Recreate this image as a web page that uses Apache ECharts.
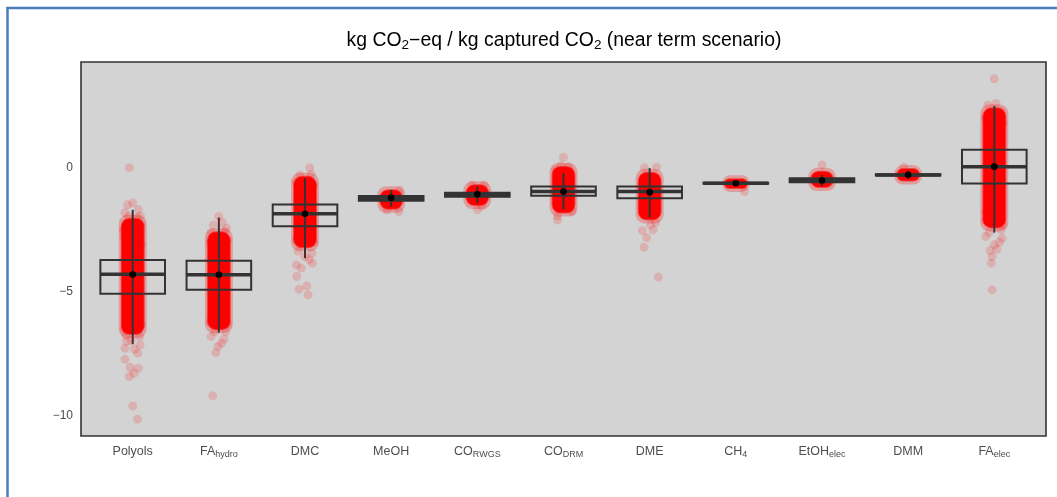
<!DOCTYPE html>
<html>
<head>
<meta charset="utf-8">
<script src="https://cdn.jsdelivr.net/npm/echarts@6/dist/echarts.min.js"></script>
<style>
  html, body { margin: 0; padding: 0; background: #ffffff; }
  #chart { width: 1057px; height: 497px; }
</style>
</head>
<body>
<div id="chart"></div>
<script>
// Product pathways, with the subscript part of each label kept separately
const categoryNames = ['Polyols', 'FA', 'DMC', 'MeOH', 'CO', 'CO', 'DME', 'CH', 'EtOH', 'DMM', 'FA'];
const categorySubs  = ['', 'hydro', '', '', 'RWGS', 'DRM', '', '4', 'elec', '', 'elec'];

// Box-plot statistics (kg CO2-eq / kg captured CO2)
const whiskerLow  = [-7.11, -6.64, -3.64, -1.56, -1.42, -1.67, -2.00, -0.69, -0.73, -0.44, -2.61];
const q1          = [-5.07, -4.91, -2.35, -1.32, -1.16, -1.12, -1.22, -0.64, -0.58, -0.31, -0.63];
const medians     = [-4.29, -4.31, -1.85, -1.22, -1.08, -0.955, -0.955, -0.62, -0.50, -0.285, 0.05];
const q3          = [-3.71, -3.74, -1.48, -1.13, -1.00, -0.75, -0.75, -0.60, -0.42, -0.26, 0.73];
const whiskerHigh = [-1.69, -2.00, -0.42, -0.89, -0.75, -0.21, -0.01, -0.55, -0.28, -0.11, 2.50];
const means       = [-4.30, -4.31, -1.85, -1.20, -1.06, -0.955, -0.98, -0.62, -0.51, -0.28, 0.05];

// Range where the Monte Carlo samples overlap into a solid cloud
const cloudHigh = [-2.15, -2.70, -0.46, -1.00, -0.80, -0.06, -0.30, -0.56, -0.26, -0.15, 2.30];
const cloudLow  = [-6.60, -6.40, -3.10, -1.55, -1.40, -1.70, -1.98, -0.71, -0.67, -0.41, -2.30];

// Individual samples outside the dense cloud: [category, jitter, value]
const samplePoints = [
  [0, -0.04, 0.01], [0, 0, -1.42], [0, -0.06, -1.49], [0, 0.065, -1.68], [0, -0.09, -1.81],
  [0, -0.05, -1.95], [0, 0.05, -2.0], [0, 0.09, -1.95], [0, -0.07, -2.23], [0, 0.1, -2.3],
  [0, -0.11, -2.5], [0, 0.08, -6.8], [0, -0.08, -6.75], [0, -0.07, -7.0], [0, 0.085, -7.14],
  [0, -0.09, -7.27], [0, 0.02, -7.3], [0, 0.06, -7.47], [0, -0.09, -7.72], [0, -0.03, -8.04],
  [0, 0.065, -8.08], [0, 0.015, -8.28], [0, -0.04, -8.41], [0, 0, -9.6], [0, 0.055, -10.13],
  [0, -0.1, -6.5], [0, 0.1, -6.3], [0, -0.1, -2.8], [0, 0.1, -3.1], [0, -0.02, -6.95],
  [1, 0, -1.96], [1, 0.04, -2.2], [1, -0.065, -2.3], [1, 0.09, -2.43], [1, 0.07, -2.55],
  [1, -0.09, -2.6], [1, 0.08, -6.6], [1, -0.05, -6.6], [1, -0.09, -6.8], [1, 0.06, -6.9],
  [1, 0.03, -7.07], [1, -0.01, -7.2], [1, -0.035, -7.45], [1, -0.07, -9.19],
  [1, -0.1, -3.0], [1, 0.1, -2.9], [1, -0.1, -6.2], [1, 0.1, -6.3],
  [2, 0.055, 0.01], [2, 0.07, -0.25], [2, -0.06, -0.3], [2, -0.08, -3.35], [2, 0.08, -3.44],
  [2, 0, -3.58], [2, 0.05, -3.7], [2, 0.085, -3.84], [2, -0.1, -3.91], [2, -0.045, -4.04],
  [2, -0.095, -4.38], [2, 0.02, -4.76], [2, -0.07, -4.89], [2, 0.035, -5.12],
  [2, -0.1, -0.6], [2, 0.1, -0.7], [2, 0.1, -3.0], [2, -0.1, -2.9],
  [3, 0.1, -0.9], [3, -0.05, -1.7], [3, 0.09, -1.76],
  [4, 0.08, -0.69], [4, -0.06, -0.7], [4, 0.05, -1.55], [4, 0, -1.69],
  [5, 0, 0.43], [5, -0.03, 0.1], [5, 0.06, 0.05], [5, -0.09, -0.08], [5, 0.1, -1.76],
  [5, -0.07, -1.94], [5, -0.07, -2.1],
  [6, 0.08, 0.03], [6, -0.06, 0.0], [6, 0.07, -2.2], [6, 0.01, -2.3], [6, 0.04, -2.5],
  [6, -0.085, -2.53], [6, -0.035, -2.81], [6, -0.065, -3.2], [6, 0.1, -4.4],
  [7, 0.1, -0.95],
  [8, 0, 0.12],
  [9, -0.05, 0.03],
  [10, 0, 3.59], [10, 0.02, 2.6], [10, -0.075, 2.54], [10, 0.08, 2.27], [10, -0.1, -2.1],
  [10, 0.1, -2.3], [10, 0.08, -2.5], [10, -0.06, -2.6], [10, -0.1, -2.77], [10, 0.09, -2.84],
  [10, 0.06, -3.0], [10, 0, -3.1], [10, 0.03, -3.28], [10, -0.05, -3.33], [10, -0.025, -3.58],
  [10, -0.035, -3.84], [10, -0.025, -4.92], [10, -0.1, 2.0], [10, 0.1, 1.8], [10, -0.1, -1.8]
];

const yTicks = [-10, -5, 0];

// Drawing constants
const BOX_HALF = 0.375;       // half box width, in category units
const JITTER = 0.087;         // half width of the jitter band, in category units
const POINT_R = 4.5;          // sample point radius, px
const INK = '#333333';
const FONT = 'Liberation Sans, Arial, sans-serif';

const chart = echarts.init(document.getElementById('chart'), null, { renderer: 'canvas' });

const categoryIdx = categoryNames.map((_, i) => i);
const boxData = categoryIdx.map(i => [i, whiskerLow[i], q1[i], medians[i], q3[i], whiskerHigh[i], means[i]]);
const cloudData = categoryIdx.map(i => [i, cloudLow[i], cloudHigh[i]]);
const pointData = samplePoints.map(p => [p[0] + p[1], p[2]]);

function categoryLabel(v) {
  const i = Math.round(v);
  const name = categoryNames[i];
  const sub = categorySubs[i];
  return sub ? name + '{sub|' + sub + '}' : name;
}

function roundedBand(xl, yt, w, h, radius, fill) {
  return {
    type: 'rect',
    shape: { x: xl, y: yt, width: w, height: h, r: Math.min(radius, w / 2, h / 2) },
    style: { fill: fill }
  };
}

const option = {
  animation: false,
  backgroundColor: '#ffffff',
  textStyle: { fontFamily: FONT },
  grid: {
    left: 81, top: 62, right: 11, bottom: 61,
    show: true, backgroundColor: '#d3d3d3', borderColor: '#333333', borderWidth: 1.6
  },
  xAxis: {
    type: 'value', min: -0.6, max: 10.6,
    axisLine: { show: false }, axisTick: { show: false }, splitLine: { show: false },
    axisLabel: {
      customValues: categoryIdx,
      formatter: categoryLabel,
      color: '#4d4d4d', fontSize: 12.5, margin: 8, lineHeight: 15,
      rich: { sub: { fontSize: 9, lineHeight: 9, verticalAlign: 'bottom', color: '#4d4d4d' } }
    }
  },
  yAxis: {
    type: 'value', min: -10.81, max: 4.27,
    axisLine: { show: false }, axisTick: { show: false }, splitLine: { show: false },
    axisLabel: {
      customValues: yTicks,
      formatter: v => (v < 0 ? '\u2212' + Math.abs(v) : String(v)),
      color: '#4d4d4d', fontSize: 12, margin: 8
    }
  },
  graphic: [
    { type: 'line', shape: { x1: 7.5, y1: 7, x2: 7.5, y2: 497 }, style: { stroke: '#4a7ebb', lineWidth: 2.5 } },
    { type: 'line', shape: { x1: 6.5, y1: 8, x2: 1057, y2: 8 }, style: { stroke: '#4a7ebb', lineWidth: 2.5 } },
    {
      type: 'text', x: 564, y: 41,
      style: {
        text: 'kg CO{sub|2}\u2212eq / kg captured CO{sub|2} (near term scenario)',
        fontFamily: FONT, fontSize: 19.4, lineHeight: 23,
        fill: '#000000', align: 'center', verticalAlign: 'middle',
        rich: { sub: { fontSize: 13.5, lineHeight: 12, verticalAlign: 'bottom', fontFamily: FONT, fill: '#000000' } }
      }
    }
  ],
  series: [
    {
      // dense overlapping samples: soft halo plus solid core
      type: 'custom', silent: true, data: cloudData,
      encode: { x: 0, y: [1, 2] },
      renderItem: (params, api) => {
        const x = api.value(0);
        const xl = api.coord([x - JITTER, 0])[0] - POINT_R;
        const xr = api.coord([x + JITTER, 0])[0] + POINT_R;
        const yt = api.coord([x, api.value(2)])[1] - POINT_R;
        const yb = api.coord([x, api.value(1)])[1] + POINT_R;
        const w = xr - xl, h = yb - yt;
        return {
          type: 'group',
          children: [
            roundedBand(xl - 2, yt - 2, w + 4, h + 4, 9, 'rgba(255,0,0,0.25)'),
            roundedBand(xl, yt + 1, w, h - 2, 9, 'rgba(255,0,0,0.55)'),
            roundedBand(xl + 1, yt + 2, w - 2, h - 4, 8, '#ff0000')
          ]
        };
      }
    },
    {
      type: 'scatter', silent: true, data: pointData,
      symbol: 'circle', symbolSize: POINT_R * 2,
      itemStyle: { color: 'rgba(255,0,0,0.2)' }
    },
    {
      type: 'custom', silent: true, data: boxData,
      encode: { x: 0, y: [1, 2, 3, 4, 5, 6] },
      renderItem: (params, api) => {
        const x = api.value(0);
        const cx = api.coord([x, 0])[0];
        const xl = api.coord([x - BOX_HALF, 0])[0];
        const xr = api.coord([x + BOX_HALF, 0])[0];
        const y = k => api.coord([x, api.value(k)])[1];
        const yWl = y(1), yQ1 = y(2), yMed = y(3), yQ3 = y(4), yWh = y(5), yMean = y(6);
        return {
          type: 'group',
          children: [
            { type: 'line', shape: { x1: cx, y1: yWh, x2: cx, y2: yWl }, style: { stroke: INK, lineWidth: 2 } },
            { type: 'rect', shape: { x: xl, y: yQ3, width: xr - xl, height: yQ1 - yQ3 }, style: { fill: 'none', stroke: INK, lineWidth: 2 } },
            { type: 'line', shape: { x1: xl, y1: yMed, x2: xr, y2: yMed }, style: { stroke: INK, lineWidth: 3.5 } },
            { type: 'circle', shape: { cx: cx, cy: yMean, r: 3.3 }, style: { fill: '#000000' } }
          ]
        };
      }
    }
  ]
};

chart.setOption(option);
</script>
</body>
</html>
